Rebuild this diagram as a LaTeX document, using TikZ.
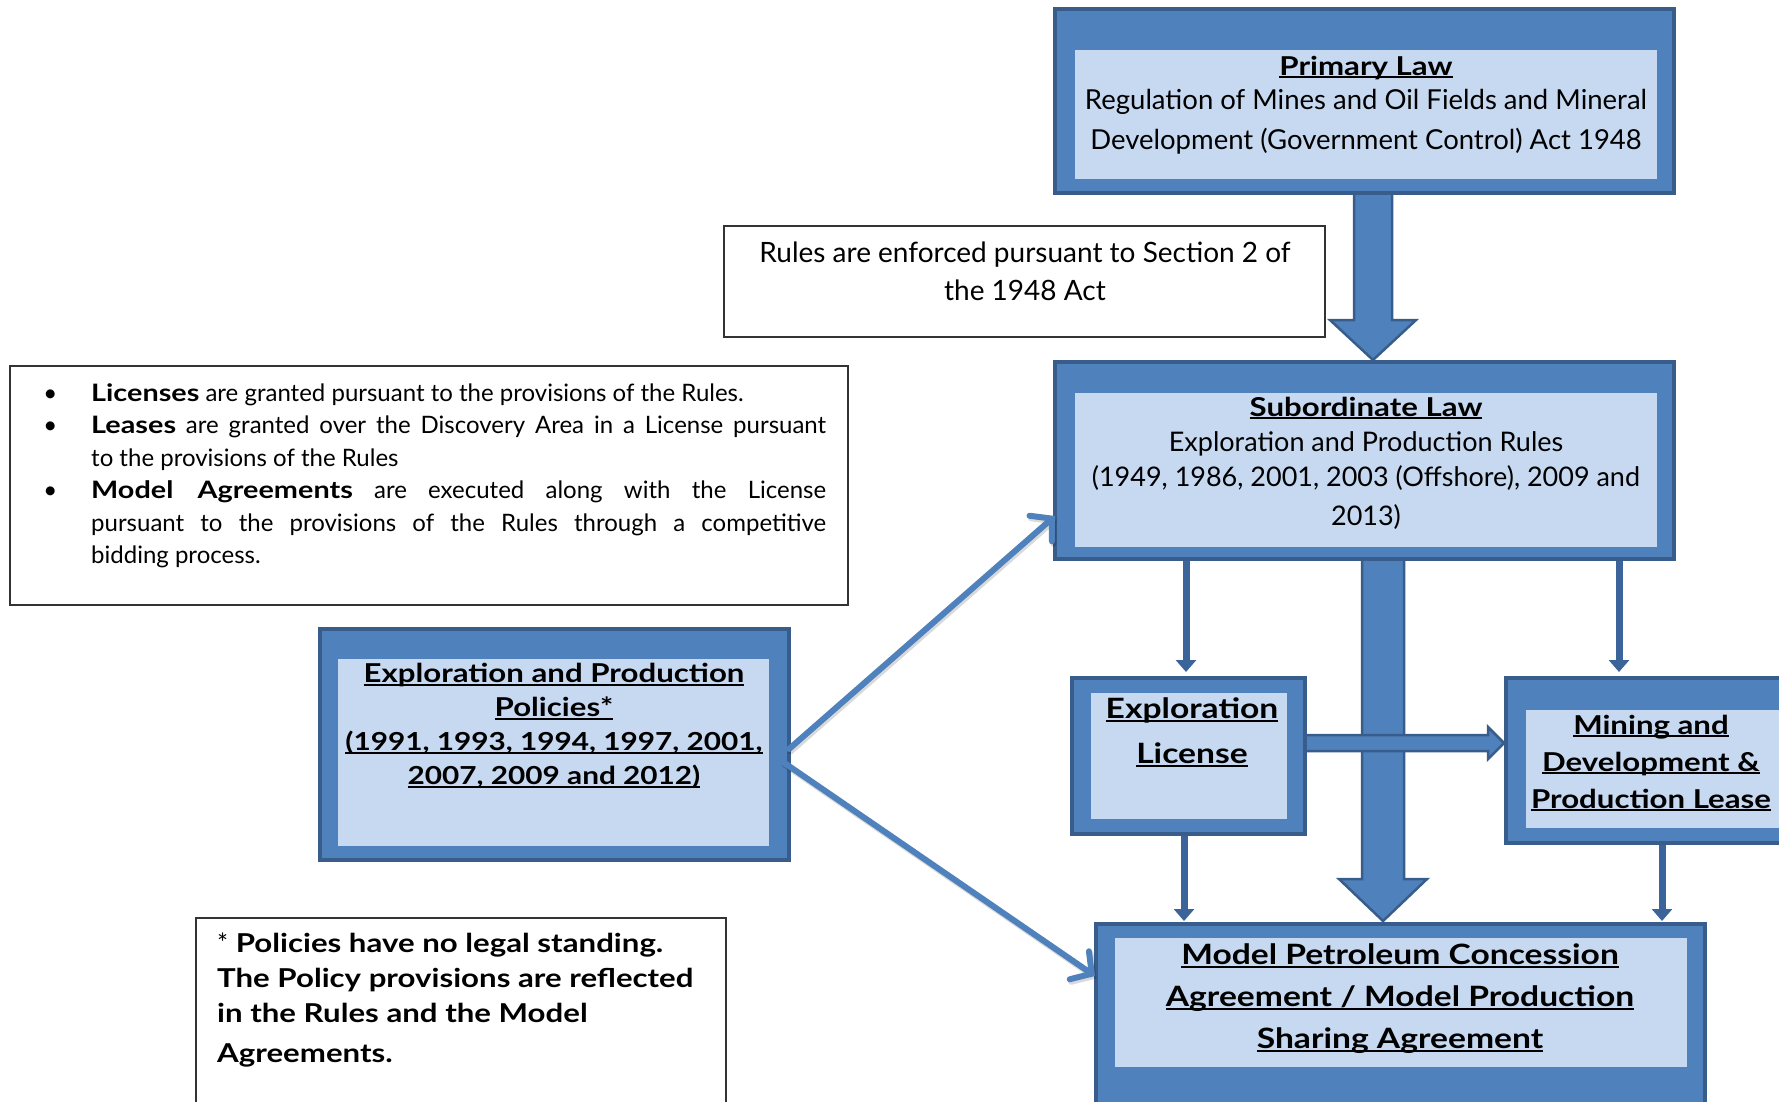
\documentclass[tikz,border=0pt]{standalone}
\usepackage{fontspec}
\setmainfont{Lato}[BoldFeatures={FakeStretch=1.2}]
\usetikzlibrary{calc,arrows.meta}
\pgfdeclarelayer{back}
\pgfsetlayers{back,main}
\definecolor{mid}{HTML}{4F81BD}
\definecolor{bdr}{HTML}{385D8A}
\definecolor{lite}{HTML}{C6D9F1}
\definecolor{dart}{HTML}{3B659A}
% underline at a fixed depth below the baseline
\newcommand\ulin[1]{\leavevmode\setbox0=\hbox{#1}\rlap{\rule[-0.12em]{\wd0}{0.075em}}\box0}
% hanging bullet for the note list
\newcommand\itembul{\leavevmode\llap{\textbullet\hspace{34pt}}}
% block arrow pointing down: start, tip, shaft half width, head half width, head length
\newcommand\blockdown[5]{\draw[blockarr] let \p1=(#1), \p2=(#2) in
  (\x1-#3pt,\y1) -- (\x1-#3pt,\y2+#5pt) -- (\x1-#4pt,\y2+#5pt) -- (\x1,\y2)
  -- (\x1+#4pt,\y2+#5pt) -- (\x1+#3pt,\y2+#5pt) -- (\x1+#3pt,\y1);}
% block arrow pointing right
\newcommand\blockright[5]{\draw[blockarr] let \p1=(#1), \p2=(#2) in
  (\x1,\y1+#3pt) -- (\x2-#5pt,\y1+#3pt) -- (\x2-#5pt,\y1+#4pt) -- (\x2,\y1)
  -- (\x2-#5pt,\y1-#4pt) -- (\x2-#5pt,\y1-#3pt) -- (\x1,\y1-#3pt);}

\begin{document}
\begin{tikzpicture}[x=1pt,y=-1pt,
  panel/.style={rectangle, draw=bdr, fill=mid, line width=3.5pt, inner sep=0pt, outer sep=0pt},
  panelin/.style={rectangle, fill=lite, inner sep=0pt, outer sep=0pt},
  notebox/.style={rectangle, draw=black!80, fill=white, line width=1.3pt, inner sep=0pt, outer sep=0pt},
  label/.style={inner sep=0pt, align=center, text=black},
  blockarr/.style={draw=bdr, fill=mid, line width=2.5pt, line join=miter},
  thinarr/.style={draw=dart, line width=7pt, -{Triangle[length=12pt,width=20pt]}},
  diag/.style={draw=mid, line width=6pt, line cap=round,
    -{Straight Barb[length=15pt,width=34pt,line cap=round]}},
  diagshade/.style={draw=black, opacity=0.15, line width=6pt, line cap=round,
    -{Straight Barb[length=15pt,width=34pt,line cap=round]}}
]
\clip (0,0) rectangle (1779,1101);

% ---- law panels ----
\node[panel, minimum width=619pt, minimum height=184pt] (prim) at (1364.5,101) {};
\node[panelin, minimum width=582pt, minimum height=129pt] (primIn) at (1366,114.5) {};
\node[label, font=\fontsize{27.5}{40}\selectfont] (primTxt) at (1366,105)
  {{\bfseries\fontsize{26}{40}\selectfont\ulin{Primary Law}}\\[-6pt]
   Regulation of Mines and Oil Fields and Mineral\\
   Development (Government Control) Act 1948};

\node[panel, minimum width=619pt, minimum height=197pt] (sub) at (1364.5,460.5) {};
\node[panelin, minimum width=582pt, minimum height=154pt] (subIn) at (1366,470) {};
\node[label, font=\fontsize{27}{35}\selectfont] (subTxt) at (1366,463)
  {{\bfseries\fontsize{26}{35}\selectfont\ulin{Subordinate Law}}\\
   Exploration and Production Rules\\
   (1949, 1986, 2001, 2003 (Offshore), 2009 and\\[4pt]
   2013)};

% ---- instruments ----
\node[panel, minimum width=233pt, minimum height=156pt] (expl) at (1188.5,756) {};
\node[panelin, minimum width=196pt, minimum height=126pt] (explIn) at (1189,756) {};
\node[label, font=\bfseries\fontsize{28}{45}\selectfont] (explTxt) at (1192,732)
  {\ulin{Exploration}\\ \ulin{License}};

\node[panel, minimum width=299pt, minimum height=165pt] (mining) at (1655.5,760.5) {};
\node[panelin, minimum width=261pt, minimum height=118pt] (miningIn) at (1656.5,769) {};
\node[label, font=\bfseries\fontsize{26}{37}\selectfont] (miningTxt) at (1651,763)
  {\ulin{Mining and}\\ \ulin{Development \&}\\ \ulin{Production Lease}};

\node[panel, minimum width=609pt, minimum height=191pt] (model) at (1400.5,1019.5) {};
\node[panelin, minimum width=572pt, minimum height=129pt] (modelIn) at (1401,1002.5) {};
\node[label, font=\bfseries\fontsize{28}{42}\selectfont] (modelTxt) at (1400,999)
  {\ulin{Model Petroleum Concession}\\ \ulin{Agreement / Model Production}\\
   \ulin{Sharing Agreement}};

\node[panel, minimum width=469pt, minimum height=231pt] (pol) at (554.5,744.5) {};
\node[panelin, minimum width=431pt, minimum height=187pt] (polIn) at (553.5,752.5) {};
\node[label, font=\bfseries\fontsize{26}{34}\selectfont] (polTxt) at (554,726)
  {\ulin{Exploration and Production}\\ \ulin{Policies*}\\
   {\fontsize{24.8}{34}\selectfont\ulin{(1991, 1993, 1994, 1997, 2001,}}\\
   {\fontsize{24.8}{34}\selectfont\ulin{2007, 2009 and 2012)}}};

% ---- explanatory notes ----
\node[notebox, minimum width=601pt, minimum height=111pt] (rules) at (1024.5,281.5) {};
\node[label, font=\fontsize{28}{38}\selectfont] (rulesTxt) at (1025,271)
  {Rules are enforced pursuant to Section 2 of\\ the 1948 Act};

\node[notebox, minimum width=838pt, minimum height=239pt] (bul) at (429,485.5) {};
\node[anchor=north west, text width=735pt, align=justify, inner sep=0pt,
      font=\fontsize{24}{32.5}\selectfont] (bulTxt) at (91,383)
  {\itembul\textbf{Licenses} are granted pursuant to the provisions of the Rules.\par
   \itembul\textbf{Leases} are granted over the Discovery Area in a License pursuant\linebreak
   to the provisions of the Rules\par
   \itembul\textbf{Model Agreements} are executed along with the License\linebreak
   pursuant to the provisions of the Rules through a competitive\linebreak
   bidding process.};

\node[notebox, minimum width=530pt, minimum height=197pt] (foot) at (461,1016.5) {};
\node[anchor=north west, inner sep=0pt, align=left,
      font=\bfseries\fontsize{26}{35}\selectfont] (footTxt) at (217,933)
  {{\mdseries *} Policies have no legal standing.\\
   The Policy provisions are reflected\\
   in the Rules and the Model\\[5pt]
   Agreements.};

% ---- connectors behind the panels ----
\begin{pgfonlayer}{back}
  \coordinate (a1s) at ($(prim.south)+(8.5,0)$);
  \coordinate (a1e) at ($(sub.north)+(8.5,-2)$);
  \blockdown{a1s}{a1e}{19}{43}{40}
  \coordinate (a2s) at ($(sub.south)+(18.5,0)$);
  \coordinate (a2e) at ($(model.north)+(-17.5,-3)$);
  \blockdown{a2s}{a2e}{21}{44}{42}
  \coordinate (hs) at ($(expl.east)+(0,-13)$);
  \coordinate (he) at ($(mining.west)+(-2,-17.5)$);
  \blockright{hs}{he}{8}{16}{16}
  \draw[thinarr] ($(sub.south)+(-178.5,0)$) -- ($(expl.north)+(-2.5,-6)$);
  \draw[thinarr] ($(sub.south)+(254.5,-5)$) -- ($(mining.north)+(-36.5,-6)$);
  \draw[thinarr] ($(expl.south)+(-4.5,0)$) -- ($(model.north)+(-216.5,-3)$);
  \draw[thinarr] ($(mining.south)+(6.5,0)$) -- ($(model.north)+(261.5,-3)$);
\end{pgfonlayer}

% ---- policy influence arrows ----
\draw[diagshade] ($(pol.east)+(1.5,7)$) -- ($(sub.west)+(1.5,58)$);
\draw[diagshade] ($(pol.east)+(-4.5,20)$) -- ($(model.west)+(0.5,-41)$);
\draw[diag] ($(pol.east)+(0,4.5)$) -- ($(sub.west)+(0,55.5)$);
\draw[diag] ($(pol.east)+(-6,17.5)$) -- ($(model.west)+(-1,-43.5)$);
\end{tikzpicture}
\end{document}
